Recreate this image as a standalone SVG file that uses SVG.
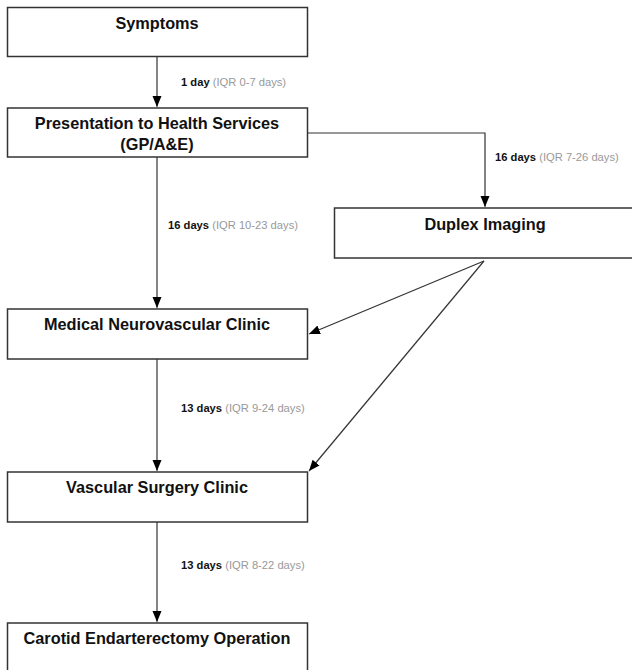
<svg xmlns="http://www.w3.org/2000/svg" width="632" height="670" viewBox="0 0 632 670">
<style>
.box{fill:#fff;stroke:#333;stroke-width:1.5}
.t{font-family:"Liberation Sans",Arial,sans-serif;font-weight:bold;font-size:16.3px;fill:#111;text-anchor:middle}
.l{font-family:"Liberation Sans",Arial,sans-serif;font-size:11.2px;fill:#999}
.l tspan.b{font-weight:bold;fill:#111}
.c{fill:none;stroke:#333;stroke-width:1.2}
</style>
<defs>
<marker id="ah" markerWidth="10" markerHeight="12" refX="11" refY="5" orient="auto" markerUnits="userSpaceOnUse">
<path d="M0,0.5 L11,5 L0,9.5 Z" fill="#000"/>
</marker>
</defs>
<g id="connectors">
<line class="c" x1="157" y1="57" x2="157" y2="107" marker-end="url(#ah)"/>
<polyline class="c" points="308,133 485,133 485,207" marker-end="url(#ah)"/>
<line class="c" x1="157" y1="157" x2="157" y2="308" marker-end="url(#ah)"/>
<line class="c" x1="484" y1="261" x2="309" y2="334" marker-end="url(#ah)"/>
<line class="c" x1="484" y1="261" x2="309" y2="471" marker-end="url(#ah)"/>
<line class="c" x1="157" y1="359" x2="157" y2="471" marker-end="url(#ah)"/>
<line class="c" x1="157" y1="522" x2="157" y2="622" marker-end="url(#ah)"/>
<text class="l" x="181" y="86"><tspan class="b">1 day</tspan> (IQR 0-7 days)</text>
<text class="l" x="495" y="161"><tspan class="b">16 days</tspan> (IQR 7-26 days)</text>
<text class="l" x="168" y="229"><tspan class="b">16 days</tspan> (IQR 10-23 days)</text>
<text class="l" x="181" y="412"><tspan class="b">13 days</tspan> (IQR 9-24 days)</text>
<text class="l" x="181" y="569"><tspan class="b">13 days</tspan> (IQR 8-22 days)</text>
</g>
<g id="symptoms">
<rect class="box" x="7.5" y="7.5" width="300" height="49"/>
<text class="t" x="157" y="29">Symptoms</text>
</g>
<g id="presentation">
<rect class="box" x="7.5" y="108" width="300" height="49"/>
<text class="t" x="157" y="129">Presentation to Health Services</text>
<text class="t" x="157" y="150">(GP/A&amp;E)</text>
</g>
<g id="duplex">
<rect class="box" x="334.5" y="208" width="300" height="50"/>
<text class="t" x="485" y="230">Duplex Imaging</text>
</g>
<g id="medical">
<rect class="box" x="7.5" y="309" width="300" height="50"/>
<text class="t" x="157" y="330">Medical Neurovascular Clinic</text>
</g>
<g id="vascular">
<rect class="box" x="7.5" y="472" width="300" height="50"/>
<text class="t" x="157" y="493">Vascular Surgery Clinic</text>
</g>
<g id="carotid">
<rect class="box" x="7.5" y="623" width="300" height="50"/>
<text class="t" x="157" y="644">Carotid Endarterectomy Operation</text>
</g>
</svg>
